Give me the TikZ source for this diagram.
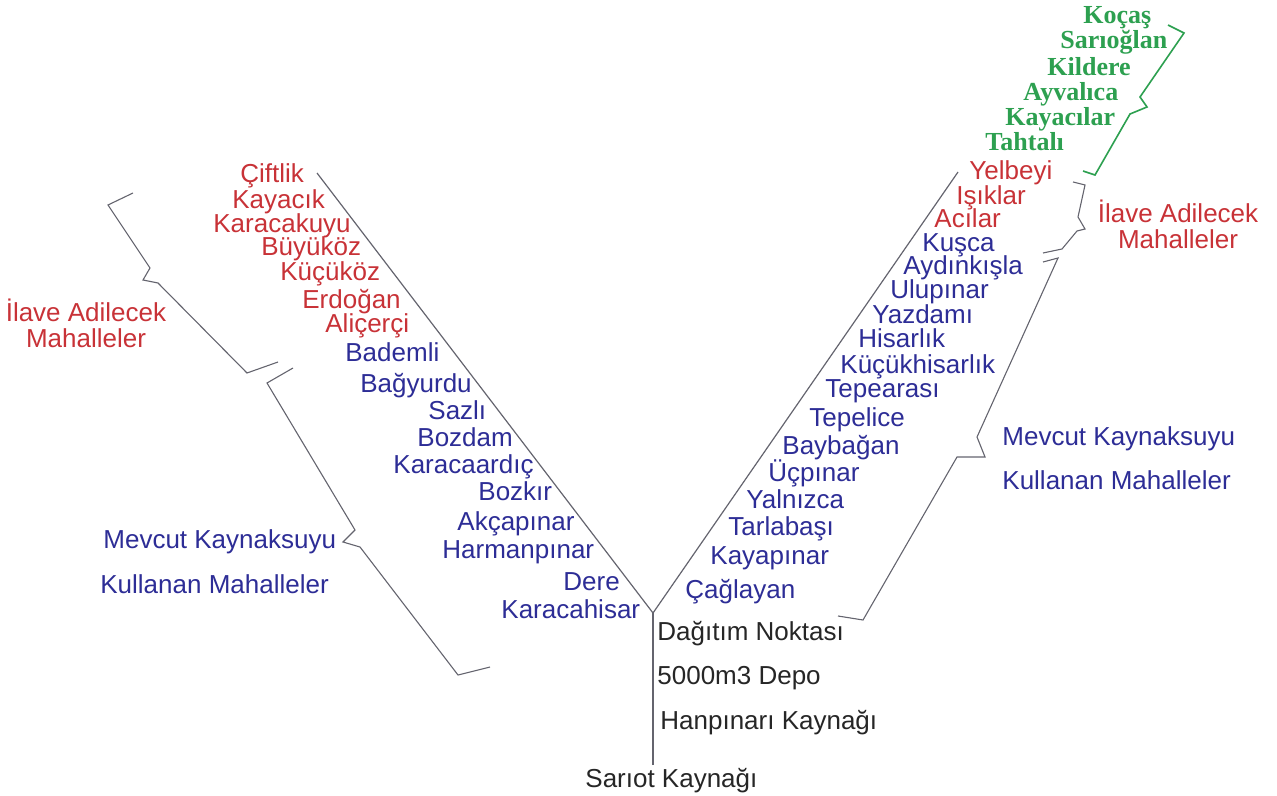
\documentclass[tikz,border=0pt]{standalone}
\usepackage{fontspec}
\setmainfont{Liberation Sans}
\newfontfamily\serifbold{Liberation Serif}
\usepackage{xcolor}
\definecolor{mahred}{RGB}{200,50,55}
\definecolor{mahblue}{RGB}{45,45,150}
\definecolor{mahgreen}{RGB}{45,160,80}
\definecolor{linegray}{RGB}{100,100,110}
\tikzset{
    lbl/.style={font=\fontsize{13}{15}\selectfont,inner sep=0pt,anchor=base west},
    redlbl/.style={lbl,text=mahred},
    bluelbl/.style={lbl,text=mahblue},
    greenlbl/.style={lbl,text=mahgreen,font=\serifbold\bfseries\fontsize{13}{15}\selectfont},
    blacklbl/.style={lbl,text=black!85},
    pipe/.style={draw=linegray,line width=0.6pt},
    brace/.style={draw=linegray,line width=0.55pt,line join=miter},
}
\begin{document}
\begin{tikzpicture}[x=0.5pt,y=-0.5pt]
\useasboundingbox (0,0) rectangle (1277,796);
% pipes
\coordinate (dag) at (653,613);
\coordinate (sariot) at (653,765);
\coordinate (ltop) at (317,173);
\coordinate (rtop) at (958,172);
\draw[pipe] (sariot) -- (dag);
\draw[pipe] (dag) -- (ltop);
\draw[pipe] (dag) -- (rtop);
% left branch
\foreach \x/\y/\p/\labeltext in {240/175/ciftlik/{Çiftlik}, 232/201/kayacik/{Kayacık}, 213/225/karacakuyu/{Karacakuyu}, 261/248/buyukoz/{Büyüköz}, 280/273/kucukoz/{Küçüköz}, 302/300/erdogan/{Erdoğan}, 325/324/alicerci/{Aliçerçi}}{
    \node[redlbl] (\p) at (\x,\y+8) {\labeltext};
}
\foreach \x/\y/\p/\labeltext in {345/353/bademli/{Bademli}, 360/384/bagyurdu/{Bağyurdu}, 428/411/sazli/{Sazlı}, 417/438/bozdam/{Bozdam}, 393/465/karacaardic/{Karacaardıç}, 478/492/bozkir/{Bozkır}, 457/522/akcapinar/{Akçapınar}, 442/550/harmanpinar/{Harmanpınar}, 563/582/dere/{Dere}, 501/610/karacahisar/{Karacahisar}}{
    \node[bluelbl] (\p) at (\x,\y+8) {\labeltext};
}
% right branch
\foreach \x/\y/\p/\labeltext in {1083/16/kocas/{Koçaş}, 1060/41/sarioglan/{Sarıoğlan}, 1047/68/kildere/{Kildere}, 1023/93/ayvalica/{Ayvalıca}, 1005/118/kayacilar/{Kayacılar}, 985/143/tahtali/{Tahtalı}}{
    \node[greenlbl] (\p) at (\x,\y+8) {\labeltext};
}
\foreach \x/\y/\p/\labeltext in {969/172/yelbeyi/{Yelbeyi}, 956/197/isiklar/{Işıklar}, 934/220/acilar/{Acılar}}{
    \node[redlbl] (\p) at (\x,\y+8) {\labeltext};
}
\foreach \x/\y/\p/\labeltext in {922/244/kusca/{Kuşca}, 903/267/aydinkisla/{Aydınkışla}, 890/291/ulupinar/{Ulupınar}, 872/315/yazdami/{Yazdamı}, 858/339/hisarlik/{Hisarlık}, 840/365/kucukhisarlik/{Küçükhisarlık}, 825/389/tepearasi/{Tepearası}, 809/418/tepelice/{Tepelice}, 782/446/baybagan/{Baybağan}, 768/473/ucpinar/{Üçpınar}, 746/500/yalnizca/{Yalnızca}, 728/527/tarlabasi/{Tarlabaşı}, 710/556/kayapinar/{Kayapınar}, 685/590/caglayan/{Çağlayan}}{
    \node[bluelbl] (\p) at (\x,\y+8) {\labeltext};
}
% stem
\foreach \x/\y/\p/\labeltext in {657/632/dagitim/{Dağıtım Noktası}, 657/676/depo/{5000m3 Depo}, 660/721/hanpinari/{Hanpınarı Kaynağı}, 585/779/sariotk/{Sarıot Kaynağı}}{
    \node[blacklbl] (\p) at (\x,\y+8) {\labeltext};
}
% brackets
\draw[brace] (133,193) -- (108,205) -- (150,268) -- (143,280) -- (158,283) -- (247,373) -- (278,362);
\draw[brace] (293,368) -- (267,383) -- (355,530) -- (343,542) -- (360,547) -- (458,675) -- (490,667);
\draw[brace] (1073,182) -- (1085,185) -- (1078,217) -- (1085,229) -- (1077,231) -- (1062,249) -- (1043,253);
\draw[brace] (1043,262) -- (1058,258) -- (977,437) -- (985,457) -- (957,457) -- (863,620) -- (838,616);
\draw[brace,draw=mahgreen,line width=0.8pt] (1168,25) -- (1184,33) -- (1140,97) -- (1147,107) -- (1130,114) -- (1095,175) -- (1083,171);
% group labels
\node[redlbl,anchor=base,align=center] (ilaveL) at (86,347) {İlave Adilecek\\[-2pt]Mahalleler};
\node[redlbl,anchor=base,align=center] (ilaveR) at (1178,249) {İlave Adilecek\\[-2pt]Mahalleler};
\node[bluelbl,anchor=base west] (mevcutL1) at (103,548) {Mevcut Kaynaksuyu};
\node[bluelbl,anchor=base west] (mevcutL2) at (100,593) {Kullanan Mahalleler};
\node[bluelbl,anchor=base west] (mevcutR1) at (1002,445) {Mevcut Kaynaksuyu};
\node[bluelbl,anchor=base west] (mevcutR2) at (1002,489) {Kullanan Mahalleler};
\end{tikzpicture}
\end{document}
